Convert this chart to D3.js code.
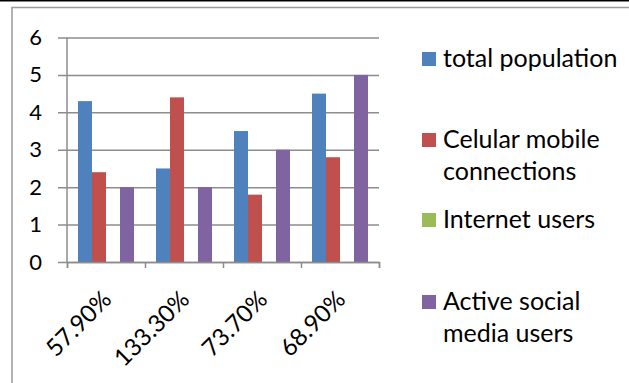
<!DOCTYPE html>
<html>
<head>
<meta charset="utf-8">
<script src="https://cdn.jsdelivr.net/npm/d3@7"></script>
<style>
  body { margin: 0; background: #fff; }
  text { font-family: Lato, "Open Sans", sans-serif; fill: #000; }
</style>
</head>
<body>
<div id="chart"></div>
<script>
var categories = ["57.90%", "133.30%", "73.70%", "68.90%"];
var seriesNames = ["total population", "Celular mobile connections", "Internet users", "Active social media users"];
var totalPopulation = [4.3, 2.5, 3.5, 4.5];
var mobileConnections = [2.4, 4.4, 1.8, 2.8];
var internetUsers = [0, 0, 0, 0];
var socialMediaUsers = [2, 2, 3, 5];
var yTicks = [0, 1, 2, 3, 4, 5, 6];
var legendLines = [["total population"], ["Celular mobile", "connections"], ["Internet users"], ["Active social", "media users"]];

var colors = ["#4F81BD", "#C0504D", "#9BBB59", "#8064A2"];
var seriesValues = [totalPopulation, mobileConnections, internetUsers, socialMediaUsers];

var svgWidth = 629, svgHeight = 383;
var plotLeft = 67, plotRight = 379, plotTop = 37.5, plotBottom = 262;

var svg = d3.select("#chart").append("svg")
    .attr("width", svgWidth)
    .attr("height", svgHeight);

// frame
svg.append("line").attr("x1", 0).attr("x2", svgWidth).attr("y1", 0.75).attr("y2", 0.75)
    .attr("stroke", "#000").attr("stroke-width", 1.5);
svg.append("path").attr("d", "M12," + svgHeight + "V7.5H" + svgWidth)
    .attr("fill", "none").attr("stroke", "#9a9a9a").attr("stroke-width", 1.5);

var x0 = d3.scaleBand().domain(categories).range([plotLeft, plotRight]).padding(0);
var x1 = d3.scaleBand().domain(d3.range(4)).range([11, x0.bandwidth() - 11]).padding(0);
var y = d3.scaleLinear().domain([0, 6]).range([plotBottom, plotTop]);

// gridlines + y labels
var yAxis = d3.axisLeft(y).tickValues(yTicks).tickFormat(d3.format("d"))
    .tickSize(plotRight - 58).tickPadding(16);
var gy = svg.append("g").attr("transform", "translate(" + plotRight + ",0)").call(yAxis);
gy.select(".domain").remove();
gy.selectAll(".tick line").attr("stroke", "#8c8c8c").attr("stroke-width", 1.5);
gy.selectAll(".tick text").attr("font-size", 22).attr("font-family", "Lato");

// bars
var groups = svg.selectAll(".cat")
    .data(categories)
    .enter().append("g")
    .attr("transform", function(d) { return "translate(" + x0(d) + ",0)"; });

groups.selectAll("rect")
    .data(function(d, i) { return seriesValues.map(function(s, k) { return {k: k, v: s[i]}; }); })
    .enter().append("rect")
    .attr("x", function(d) { return x1(d.k); })
    .attr("width", x1.bandwidth())
    .attr("y", function(d) { return y(d.v); })
    .attr("height", function(d) { return plotBottom - y(d.v); })
    .attr("fill", function(d) { return colors[d.k]; });

// y axis line
svg.append("line").attr("x1", plotLeft).attr("x2", plotLeft).attr("y1", plotTop).attr("y2", plotBottom)
    .attr("stroke", "#8c8c8c").attr("stroke-width", 1.5);

// x axis: boundary ticks
var xb = d3.scaleLinear().domain([0, categories.length]).range([plotLeft, plotRight]);
var gxb = svg.append("g").attr("transform", "translate(0," + plotBottom + ")")
    .call(d3.axisBottom(xb).ticks(4).tickSize(6).tickFormat(""));
gxb.select(".domain").attr("stroke", "#8c8c8c").attr("stroke-width", 1.5);
gxb.selectAll(".tick line").attr("stroke", "#8c8c8c").attr("stroke-width", 1.5);

// x labels
var gx = svg.append("g").attr("transform", "translate(0," + plotBottom + ")")
    .call(d3.axisBottom(x0).tickSize(0));
gx.select(".domain").remove();
gx.selectAll(".tick text")
    .attr("font-size", 24).attr("font-family", "Lato")
    .attr("text-anchor", "end")
    .attr("x", 0).attr("y", 0).attr("dy", "0.35em")
    .attr("transform", "translate(1,33) rotate(-45)");

// legend
var legendY = [59, 140, 220, 302];
var legend = svg.selectAll(".legend")
    .data(legendLines)
    .enter().append("g")
    .attr("transform", function(d, i) { return "translate(422," + legendY[i] + ")"; });
legend.append("rect").attr("x", 0).attr("y", -7).attr("width", 14).attr("height", 14)
    .attr("fill", function(d, i) { return colors[i]; });
legend.append("text")
    .attr("x", 21).attr("y", 8)
    .attr("font-size", 25)
    .selectAll("tspan")
    .data(function(d) { return d; })
    .enter().append("tspan")
    .attr("x", 21)
    .attr("dy", function(d, j) { return j === 0 ? 0 : 32; })
    .text(function(d) { return d; });
</script>
</body>
</html>
